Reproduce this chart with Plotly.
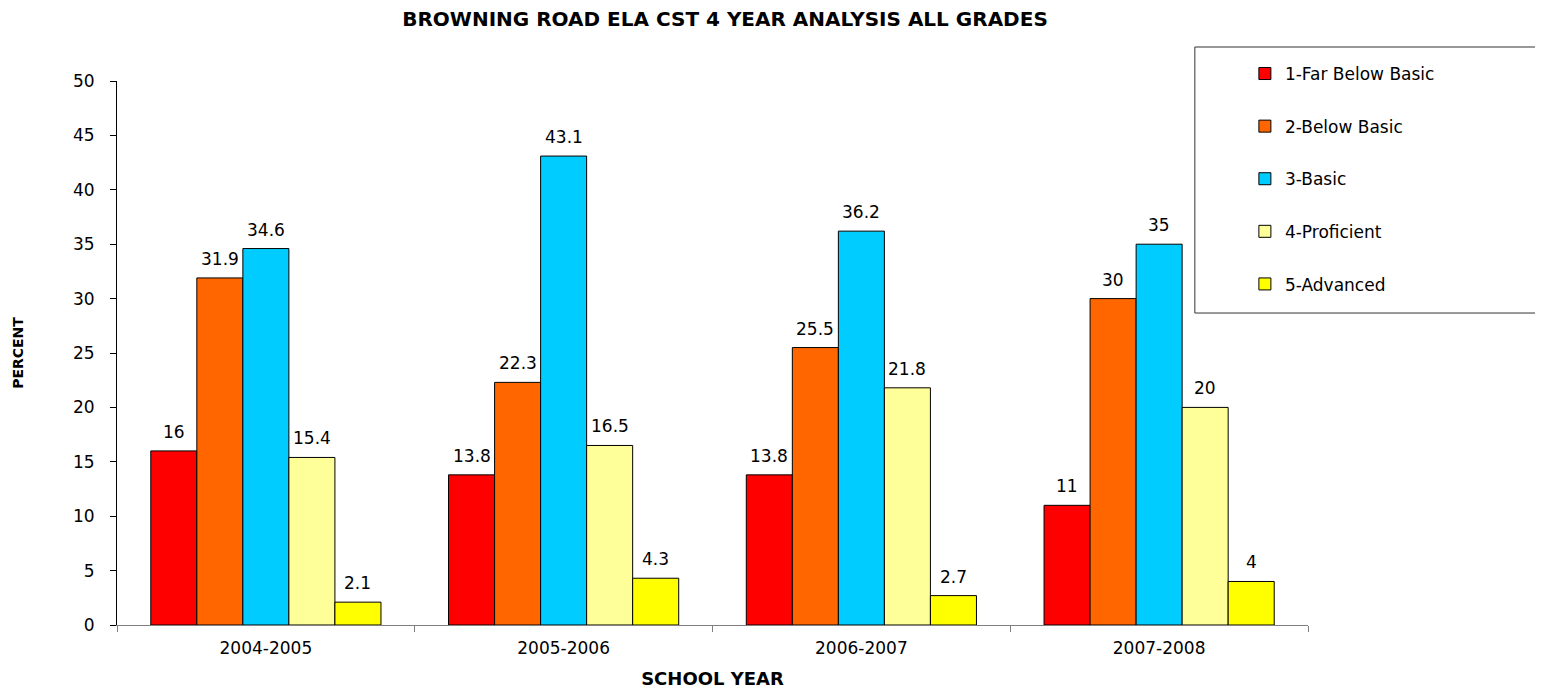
import plotly.graph_objects as go

categories = ["2004-2005", "2005-2006", "2006-2007", "2007-2008"]
series_names = ["1-Far Below Basic", "2-Below Basic", "3-Basic", "4-Proficient", "5-Advanced"]
far_below_basic = [16, 13.8, 13.8, 11]
below_basic = [31.9, 22.3, 25.5, 30]
basic = [34.6, 43.1, 36.2, 35]
proficient = [15.4, 16.5, 21.8, 20]
advanced = [2.1, 4.3, 2.7, 4]
y_ticks = list(range(0, 51, 5))

series_values = [far_below_basic, below_basic, basic, proficient, advanced]
colors = ["#FF0000", "#FF6600", "#00CCFF", "#FFFF99", "#FFFF00"]

FONT = "DejaVu Sans, Liberation Sans, Arial, sans-serif"
BAR_PX = 46.0  # approximate pixel width of one bar

fig = go.Figure()
for k, (name, vals, col) in enumerate(zip(series_names, series_values, colors)):
    fig.add_trace(go.Bar(
        name=name, x=categories, y=vals,
        marker=dict(color=col, line=dict(color="black", width=1)),
        legendgroup=f"g{k}",
    ))
    for cat, v in zip(categories, vals):
        fig.add_annotation(
            x=cat, y=v, xref="x", yref="y", text=f"{v:g}",
            showarrow=False, yanchor="middle", yshift=19,
            xshift=(k - 2) * BAR_PX,
            font=dict(family=FONT, size=17, color="black"),
        )

fig.update_layout(
    width=1543, height=686,
    paper_bgcolor="white", plot_bgcolor="white",
    barmode="group", bargap=0.227, bargroupgap=0,
    margin=dict(l=109, r=243, t=73, b=69, autoexpand=False),
    title=dict(
        text="<b>BROWNING ROAD ELA CST 4 YEAR ANALYSIS ALL GRADES</b>",
        x=0.5105, xref="paper", xanchor="center",
        y=1 - 11 / 686, yref="container", yanchor="middle",
        font=dict(family=FONT, size=20, color="black"),
    ),
    legend=dict(
        x=0.947, xanchor="left", y=1.046, yanchor="top",
        bgcolor="rgba(0,0,0,0)", borderwidth=0,
        font=dict(family=FONT, size=17, color="black"),
        tracegroupgap=27.5,
    ),
    shapes=[dict(
        type="rect", xref="paper", yref="paper",
        x0=0.905, x1=1.3, y0=0.5735, y1=1.0625,
        line=dict(color="#333333", width=1), fillcolor="rgba(0,0,0,0)",
    )],
    font=dict(family=FONT, color="black"),
)

fig.update_xaxes(
    type="category", automargin=False,
    showline=True, linecolor="#808080", linewidth=1,
    ticks="outside", tickson="boundaries", ticklen=6, tickcolor="#808080",
    ticklabelstandoff=8,
    tickfont=dict(family=FONT, size=17, color="black"),
    showgrid=False, zeroline=False,
    title=dict(text="<b>SCHOOL YEAR</b>", font=dict(family=FONT, size=18, color="black"), standoff=14),
)
fig.update_yaxes(
    range=[0, 50], tickvals=y_ticks, automargin=False,
    showline=True, linecolor="black", linewidth=1,
    ticks="outside", ticklen=6, tickcolor="black",
    ticklabelstandoff=12,
    tickfont=dict(family=FONT, size=17, color="black"),
    showgrid=False, zeroline=False,
    title=dict(text="<b>PERCENT</b>", font=dict(family=FONT, size=14, color="black"), standoff=46),
)

fig.write_html("out.html")
